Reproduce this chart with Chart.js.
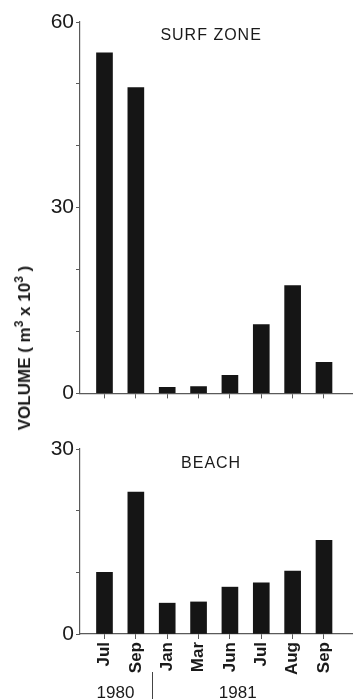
<!DOCTYPE html>
<html>
<head>
<meta charset="utf-8">
<script src="https://cdn.jsdelivr.net/npm/chart.js@4.4.1/dist/chart.umd.min.js"></script>
<style>
  html, body { margin: 0; padding: 0; background: #fff; }
  body { width: 353px; height: 699px; position: relative; overflow: hidden; }
  .box { position: absolute; left: 0; width: 353px; }
  #top-box { top: 0; height: 408px; }
  #bottom-box { top: 405px; height: 294px; }
  #y-title {
    position: absolute;
    left: 25px;
    top: 348px;
    transform: translate(-50%, -50%) rotate(-90deg);
    white-space: nowrap;
    font: bold 17px 'Liberation Sans', Arial, sans-serif;
    color: #1a1a1a;
  }
  #y-title sup { font-size: 12px; vertical-align: 7px; line-height: 0; }
</style>
</head>
<body>
<div class="box" id="top-box"><canvas id="surf-chart"></canvas></div>
<div class="box" id="bottom-box"><canvas id="beach-chart"></canvas></div>
<div id="y-title">VOLUME ( m<sup>3</sup> x 10<sup>3</sup> )</div>

<script>
// ─── Data ─────────────────────────────────────────────
const months     = ['Jul', 'Sep', 'Jan', 'Mar', 'Jun', 'Jul', 'Aug', 'Sep'];
const years      = ['1980', '1981'];
const surfZone   = [55, 49.4, 1.0, 1.1, 2.9, 11.1, 17.4, 5.0];
const beach      = [10, 23, 5.0, 5.2, 7.6, 8.3, 10.2, 15.2];
const surfTicks  = [0, 30, 60];
const beachTicks = [0, 30];

// ─── Shared style ─────────────────────────────────────
const FONT     = "'Liberation Sans', Arial, sans-serif";
const INK      = '#1a1a1a';
const AXIS     = '#5a5a5a';
const BAR      = '#151515';
const X_MIN    = -0.781;
const X_MAX    = 7.925;

function toPoints(values) {
    return values.map((v, i) => ({ x: i, y: v }));
}

function xScale(showLabels, height) {
    return {
        type: 'linear',
        min: X_MIN,
        max: X_MAX,
        offset: false,
        afterBuildTicks: s => { s.ticks = months.map((m, i) => ({ value: i })); },
        afterFit: s => { s.height = height; },
        border: { color: AXIS, width: 1.2 },
        grid: { offset: false, drawOnChartArea: false, tickLength: 5, color: AXIS, lineWidth: 1 },
        ticks: {
            display: showLabels,
            minRotation: 90,
            maxRotation: 90,
            padding: 3,
            color: INK,
            font: { family: FONT, size: 17, weight: 'bold' },
            callback: v => months[v],
        },
    };
}

function yScale(max, labelled) {
    return {
        min: 0,
        max: max,
        afterFit: s => { s.width = 80; },
        border: { color: AXIS, width: 1.2 },
        grid: { drawOnChartArea: false, tickLength: 4, color: AXIS },
        ticks: {
            stepSize: 10,
            padding: 2,
            color: INK,
            font: { family: FONT, size: 21 },
            callback: v => (labelled.includes(v) ? v : ''),
        },
    };
}

// ─── Panel title plugin ───────────────────────────────
const panelTitle = {
    id: 'panelTitle',
    afterDraw(chart, args, opts) {
        const { ctx } = chart;
        const x = chart.scales.x.getPixelForValue(3.4);
        ctx.save();
        ctx.fillStyle = INK;
        ctx.font = `16px ${FONT}`;
        ctx.letterSpacing = '1px';
        ctx.textAlign = 'center';
        ctx.textBaseline = 'middle';
        ctx.fillText(opts.text, x, chart.chartArea.top + opts.dy);
        ctx.restore();
    },
};

// ─── Year labels under the months ─────────────────────
const yearRow = {
    id: 'yearRow',
    afterDraw(chart) {
        const { ctx } = chart;
        const x = chart.scales.x;
        const base = chart.chartArea.bottom;
        ctx.save();
        ctx.fillStyle = INK;
        ctx.font = `17px ${FONT}`;
        ctx.textAlign = 'center';
        ctx.textBaseline = 'middle';
        ctx.fillText(years[0], x.getPixelForValue(0.35), base + 59);
        ctx.fillText(years[1], x.getPixelForValue(4.25), base + 59);

        const sx = Math.round(x.getPixelForValue(1.5)) + 0.5;
        ctx.strokeStyle = '#444';
        ctx.lineWidth = 1;
        ctx.beginPath();
        ctx.moveTo(sx, base + 38);
        ctx.lineTo(sx, chart.height);
        ctx.stroke();
        ctx.restore();
    },
};

function barDataset(values) {
    return {
        data: toPoints(values),
        backgroundColor: BAR,
        borderWidth: 0,
        barThickness: 16,
    };
}

const baseOptions = {
    responsive: true,
    maintainAspectRatio: false,
    animation: false,
    plugins: { legend: { display: false }, tooltip: { enabled: false } },
};

// ─── Surf zone ────────────────────────────────────────
new Chart(document.getElementById('surf-chart'), {
    type: 'bar',
    data: { datasets: [barDataset(surfZone)] },
    options: {
        ...baseOptions,
        layout: { padding: { top: 22, right: 0, bottom: 4, left: 0 } },
        scales: { x: xScale(false, 5), y: yScale(surfTicks[surfTicks.length - 1], surfTicks) },
        plugins: { ...baseOptions.plugins, panelTitle: { text: 'SURF ZONE', dy: 14 } },
    },
    plugins: [panelTitle],
});

// ─── Beach ────────────────────────────────────────────
new Chart(document.getElementById('beach-chart'), {
    type: 'bar',
    data: { datasets: [barDataset(beach)] },
    options: {
        ...baseOptions,
        layout: { padding: { top: 44, right: 0, bottom: 0, left: 0 } },
        scales: { x: xScale(true, 65), y: yScale(beachTicks[beachTicks.length - 1], beachTicks) },
        plugins: { ...baseOptions.plugins, panelTitle: { text: 'BEACH', dy: 15 } },
    },
    plugins: [panelTitle, yearRow],
});
</script>
</body>
</html>
